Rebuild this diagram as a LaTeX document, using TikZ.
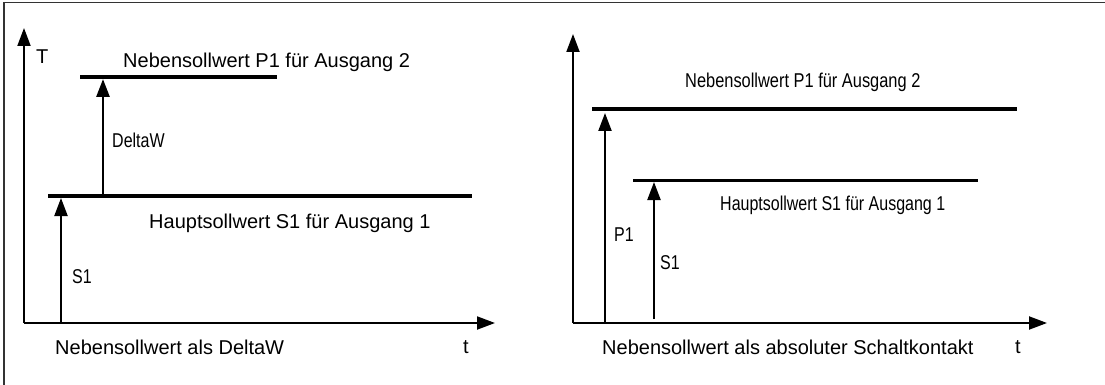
\documentclass[tikz,border=0pt]{standalone}
\usepackage{fontspec}
\setmainfont{Liberation Sans}
\usetikzlibrary{arrows.meta}
\tikzset{
  axis/.style={line width=2pt,-{Triangle[length=18pt,width=13pt]}},
  vec/.style={line width=2.8pt,-{Triangle[length=18pt,width=13pt]}},
  vecthin/.style={line width=2.2pt,-{Triangle[length=18pt,width=13pt]}},
  level/.style={line width=4pt},
  levelthin/.style={line width=3pt},
  lbl/.style={font=\fontsize{20pt}{22pt}\selectfont,inner sep=0pt},
}
\newcommand{\cond}[2]{\scalebox{#1}[1]{#2}}
\begin{document}
\begin{tikzpicture}[x=1pt,y=-1pt]
\useasboundingbox (0,0) rectangle (1105,385);
% frame
\draw[line width=1.5pt,black!80] (4,385) -- (4,2.5) -- (1105,2.5);
% ---------- left panel ----------
\coordinate (lo) at (24,323);
\coordinate (ly) at (24,28);
\coordinate (lx) at (495,323);
\draw[axis] (lo) -- (ly);
\draw[axis] (lo) -- (lx);
\coordinate (l1a) at (48,196);
\coordinate (l1b) at (472,196);
\coordinate (l2a) at (80,77);
\coordinate (l2b) at (277,77);
\draw[level] (l1a) -- (l1b);
\draw[level] (l2a) -- (l2b);
\coordinate (s1base) at (61,323);
\coordinate (s1tip) at (61,198);
\draw[vecthin] (s1base) -- (s1tip);
\coordinate (dwbase) at (103,196);
\coordinate (dwtip) at (103,79);
\draw[vec] (dwbase) -- (dwtip);
\node[lbl,anchor=west] (T) at (36,57) {T};
\node[lbl,anchor=west] (nlP) at (123,62) {Nebensollwert P1 für Ausgang 2};
\node[lbl,anchor=west] (dw) at (112,140) {\cond{0.8}{DeltaW}};
\node[lbl,anchor=west] (hlS) at (149,223) {Hauptsollwert S1 für Ausgang 1};
\node[lbl,anchor=west] (s1l) at (72,277) {\cond{0.8}{S1}};
\node[lbl,anchor=west] (capL) at (55,347) {Nebensollwert als DeltaW};
\node[lbl,anchor=west] (tL) at (463,347) {t};
% ---------- right panel ----------
\coordinate (ro) at (573,323);
\coordinate (ry) at (573,34);
\coordinate (rx) at (1047,323);
\draw[axis] (ro) -- (ry);
\draw[axis] (ro) -- (rx);
\coordinate (r1a) at (592,109);
\coordinate (r1b) at (1017,109);
\coordinate (r2a) at (633,180);
\coordinate (r2b) at (978,180);
\draw[level] (r1a) -- (r1b);
\draw[levelthin] (r2a) -- (r2b);
\coordinate (p1base) at (605,323);
\coordinate (p1tip) at (605,113);
\draw[vecthin] (p1base) -- (p1tip);
\coordinate (rs1base) at (654,319);
\coordinate (rs1tip) at (654,182);
\draw[vecthin] (rs1base) -- (rs1tip);
\node[lbl,anchor=west] (rnP) at (685,82) {\cond{0.82}{Nebensollwert P1 für Ausgang 2}};
\node[lbl,anchor=west] (rhS) at (720,205) {\cond{0.8}{Hauptsollwert S1 für Ausgang 1}};
\node[lbl,anchor=west] (p1l) at (614,235) {\cond{0.8}{P1}};
\node[lbl,anchor=west] (rs1l) at (660,263) {\cond{0.8}{S1}};
\node[lbl,anchor=west] (capR) at (602,347) {Nebensollwert als absoluter Schaltkontakt};
\node[lbl,anchor=west] (tR) at (1015,347) {t};
\end{tikzpicture}
\end{document}
